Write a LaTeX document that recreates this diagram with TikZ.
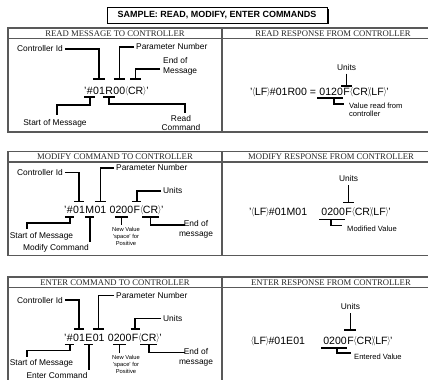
\documentclass[tikz,border=0pt]{standalone}
\usepackage{graphicx}
\usepackage{fontspec}
\setmainfont{Liberation Sans}
\newfontfamily\hdrfont{Liberation Serif}
\newcommand\Lb{\kern-0.04em\raisebox{0.06em}{\scalebox{0.75}[0.85]{$\langle$}}\kern-0.02em}
\newcommand\Rb{\kern-0.02em\raisebox{0.06em}{\scalebox{0.75}[0.85]{$\rangle$}}\kern-0.04em}
\newcommand\RL{\Rb\kern-0.16em\Lb}
\begin{document}
\begin{tikzpicture}[x=1bp,y=-1bp,
  lab/.style={font=\fontsize{8.4}{9.8}\selectfont, inner sep=0pt, align=center},
  labl/.style={font=\fontsize{8.4}{10.5}\selectfont, inner sep=0pt, align=left},
  msg/.style={font=\fontsize{10.6}{12}\selectfont, inner sep=0pt, anchor=base west},
  tiny/.style={font=\fontsize{5.8}{7}\selectfont, inner sep=0pt, align=center},
  hdr/.style={font=\hdrfont\fontsize{8.7}{9}\selectfont, inner sep=0pt, text=black!85},
  conn/.style={line width=1.5bp},
  frame/.style={draw=black!65, line width=1.1bp},
]
\useasboundingbox (0,0) rectangle (428,380);
\clip (0,0) rectangle (428,380);

% title
\fill[black] (109,9) rectangle (328.5,24);
\node[draw=black, fill=white, line width=0.8bp, minimum width=220bp, minimum height=16bp, inner sep=0pt,
      font=\bfseries\fontsize{9}{10}\selectfont] (title) at (217,15) {SAMPLE: READ, MODIFY, ENTER COMMANDS};

% ================= panel 1 =================
\begin{scope}[shift={(0,28)}]
\draw[frame] (8,0) rectangle (448,104);
\draw[frame] (8,10.5) -- (448,10.5);
\draw[frame] (222,0) -- (222,104);
\node[hdr] (h1l) at (115,5.5) {READ MESSAGE TO CONTROLLER};
\node[hdr] (h1r) at (333,5.5) {READ RESPONSE FROM CONTROLLER};
% left message
\node[msg] (a1q) at (84,66) {'};
\node[msg] (a1h) at (a1q.base east) {\#};
\node[msg] (a1c) at (a1h.base east) {01};
\node[msg] (a1r) at (a1c.base east) {R};
\node[msg] (a1p) at (a1r.base east) {00};
\node[msg] (a1e) at (a1p.base east) {\Lb CR\Rb};
\node[msg] (a1z) at (a1e.base east) {'};
\coordinate (t1) at (0,51);
\coordinate (b1) at (0,69);
\node[lab, anchor=west] (cid1) at (17,21) {Controller Id};
\draw[conn] ([xshift=2]cid1.east) -| (a1c |- t1);
\draw[conn] (a1c |- t1) ++(-6,0) -- ++(12,0);
\node[lab, anchor=west] (par1) at (136,19) {Parameter Number};
\draw[conn] ([xshift=-2]par1.west) -| (a1p |- t1);
\draw[conn] (a1p |- t1) ++(-5.5,0) -- ++(11,0);
\node[labl, anchor=west] (end1) at (163,38.5) {End of\\Message};
\coordinate (end1k) at (160,41);
\draw[conn] (end1k) -| (a1e |- t1);
\draw[conn] (a1e |- t1) ++(-5.5,0) -- ++(11,0);
\node[lab] (st1) at (55,95) {Start of Message};
\coordinate (st1k) at (57,87);
\draw[conn] (a1h |- b1) ++(-5.5,0) -- ++(11,0);
\draw[conn] (a1h |- b1) -- ++(0,8) -| (st1k);
\node[lab] (rd1) at (181,95) {Read\\Command};
\coordinate (rd1k) at (185,85);
\draw[conn] (a1r |- b1) ++(-6,0) -- ++(12,0);
\draw[conn] (a1r |- b1) -- ++(0,7) -| (rd1k);
% right message
\node[msg] (r1a) at (250,67.5) {'\Lb LF\Rb\#01R00 =};
\node[msg] (r1v) at ([xshift=3]r1a.base east) {0120};
\node[msg] (r1f) at (r1v.base east) {F};
\node[msg] (r1b) at (r1f.base east) {\Lb CR\RL LF\Rb'};
\node[lab] (u1) at (r1f |- 0,40) {Units};
\coordinate (ub1) at (r1f |- 0,58);
\draw[conn] (r1f |- 0,45.5) -- (ub1);
\draw[conn] (ub1) ++(-5.5,0) -- ++(11,0);
\draw[conn] ([xshift=-2]r1v.base west |- 0,70) -- (r1v.base east |- 0,70);
\coordinate (vk1) at ([xshift=15]r1v.base west |- 0,70);
\node[labl, anchor=west, font=\fontsize{7.6}{8}\selectfont] (val1) at (349,82) {Value read from\\controller};
\draw[conn] (vk1) -- ++(0,6) -- ([xshift=-5]val1.west |- 0,76);
\end{scope}

% ================= panel 2 =================
\begin{scope}[shift={(0,151.5)}]
\draw[frame] (8,0) rectangle (448,104);
\draw[frame] (8,10.5) -- (448,10.5);
\draw[frame] (222,0) -- (222,104);
\node[hdr] (h2l) at (115,5.5) {MODIFY COMMAND TO CONTROLLER};
\node[hdr] (h2r) at (331,5.5) {MODIFY RESPONSE FROM CONTROLLER};
% left message
\node[msg] (a2q) at (64,62) {'};
\node[msg] (a2h) at (a2q.base east) {\#};
\node[msg] (a2c) at (a2h.base east) {01};
\node[msg] (a2m) at (a2c.base east) {M};
\node[msg] (a2p) at (a2m.base east) {01};
\node[msg] (a2v) at ([xshift=3]a2p.base east) {0200};
\node[msg] (a2f) at (a2v.base east) {F};
\node[msg] (a2e) at (a2f.base east) {\Lb CR\Rb};
\node[msg] (a2z) at (a2e.base east) {'};
\coordinate (t2) at (0,50);
\coordinate (b2) at (0,65.5);
\node[lab, anchor=west] (cid2) at (17,21.2) {Controller Id};
\draw[conn] ([xshift=2]cid2.east) -| (a2c |- t2);
\draw[conn] (a2c |- t2) ++(-5,0) -- ++(10,0);
\node[lab, anchor=west] (par2) at (116,16.5) {Parameter Number};
\draw[conn] ([xshift=-2]par2.west) -| (a2p |- t2);
\draw[conn] (a2p |- t2) ++(-5.5,0) -- ++(11,0);
\node[lab, anchor=west] (un2) at (163,39.5) {Units};
\draw[conn] ([xshift=-2]un2.west) -| (a2f |- t2);
\draw[conn] (a2f |- t2) ++(-4.5,0) -- ++(9,0);
\node[lab] (st2) at (41.5,84.5) {Start of Message};
\coordinate (st2k) at (27,77.5);
\draw[conn] (a2h |- b2) ++(-5,0) -- ++(9,0);
\draw[conn] (a2h |- b2) -- ++(0,6) -| (st2k);
\node[lab] (mc2) at (56,96.5) {Modify Command};
\draw[conn] (a2m |- b2) ++(-4.5,0) -- ++(9,0);
\draw[conn] (a2m |- b2) -- (a2m |- 0,90.5);
\node[tiny] (nv2) at (126,85) {New Value\\'space' for\\Positive};
\draw[conn] (a2v |- b2) ++(-6.5,0) -- ++(13,0);
\draw[conn] (a2v |- b2) -- (a2v |- 0,73.5);
\node[lab] (em2) at (196,78) {End of\\message};
\coordinate (em2k) at (185,73.5);
\draw[conn] (a2e |- b2) ++(-8.5,0) -- ++(17,0);
\draw[conn] (a2e |- b2) |- (em2k);
% right message
\node[msg] (r2a) at (249,64) {'\Lb LF\Rb\#01M01};
\node[msg] (r2v) at ([xshift=14]r2a.base east) {0200};
\node[msg] (r2f) at (r2v.base east) {F};
\node[msg] (r2b) at (r2f.base east) {\Lb CR\RL LF\Rb'};
\node[lab] (u2) at (r2f |- 0,27.5) {Units};
\coordinate (ub2) at (r2f |- 0,51);
\draw[conn] (r2f |- 0,33.5) -- (ub2);
\draw[conn] (ub2) ++(-5.5,0) -- ++(11,0);
\draw[conn] ([xshift=-2]r2v.base west |- 0,68) -- (r2v.base east |- 0,68);
\coordinate (vk2) at ([xshift=10]r2v.base west |- 0,68);
\node[lab, anchor=west, font=\fontsize{7.6}{8}\selectfont] (mv2) at (347,77.5) {Modified Value};
\draw[conn] (vk2) -- ++(0,6) -- ([xshift=-5]mv2.west |- 0,74);
\end{scope}

% ================= panel 3 =================
\begin{scope}[shift={(0,277)}]
\draw[frame] (8,0) rectangle (448,104);
\draw[frame] (8,10.5) -- (448,10.5);
\draw[frame] (222,0) -- (222,104);
\node[hdr] (h3l) at (115,5.5) {ENTER COMMAND TO CONTROLLER};
\node[hdr] (h3r) at (331,5.5) {ENTER RESPONSE FROM CONTROLLER};
\end{scope}
\begin{scope}[shift={(0,279)}]
% left message
\node[msg] (a3q) at (64,62) {'};
\node[msg] (a3h) at (a3q.base east) {\#};
\node[msg] (a3c) at (a3h.base east) {01};
\node[msg] (a3m) at (a3c.base east) {E};
\node[msg] (a3p) at (a3m.base east) {01};
\node[msg] (a3v) at ([xshift=3]a3p.base east) {0200};
\node[msg] (a3f) at (a3v.base east) {F};
\node[msg] (a3e) at (a3f.base east) {\Lb CR\Rb};
\node[msg] (a3z) at (a3e.base east) {'};
\coordinate (t3) at (0,50);
\coordinate (b3) at (0,65.5);
\node[lab, anchor=west] (cid3) at (17,21.2) {Controller Id};
\draw[conn] ([xshift=2]cid3.east) -| (a3c |- t3);
\draw[conn] (a3c |- t3) ++(-5,0) -- ++(10,0);
\node[lab, anchor=west] (par3) at (116,16.5) {Parameter Number};
\draw[conn] ([xshift=-2]par3.west) -| (a3p |- t3);
\draw[conn] (a3p |- t3) ++(-5.5,0) -- ++(11,0);
\node[lab, anchor=west] (un3) at (163,39.5) {Units};
\draw[conn] ([xshift=-2]un3.west) -| (a3f |- t3);
\draw[conn] (a3f |- t3) ++(-4.5,0) -- ++(9,0);
\node[lab] (st3) at (41.5,84.5) {Start of Message};
\coordinate (st3k) at (27,77.5);
\draw[conn] (a3h |- b3) ++(-5,0) -- ++(9,0);
\draw[conn] (a3h |- b3) -- ++(0,6) -| (st3k);
\node[lab] (ec3) at (57,96.5) {Enter Command};
\draw[conn] (a3m |- b3) ++(-4.5,0) -- ++(9,0);
\draw[conn] (a3m |- b3) -- (a3m |- 0,90.5);
\node[tiny] (nv3) at (126,85) {New Value\\'space' for\\Positive};
\draw[conn] (a3v |- b3) ++(-6.5,0) -- ++(13,0);
\draw[conn] (a3v |- b3) -- (a3v |- 0,73.5);
\node[lab] (em3) at (196,78) {End of\\message};
\coordinate (em3k) at (185,73.5);
\draw[conn] (a3e |- b3) ++(-8.5,0) -- ++(17,0);
\draw[conn] (a3e |- b3) |- (em3k);
% right message
\node[msg] (r3a) at (251,65) {\Lb LF\Rb\#01E01};
\node[msg] (r3v) at ([xshift=18]r3a.base east) {0200};
\node[msg] (r3f) at (r3v.base east) {F};
\node[msg] (r3b) at (r3f.base east) {\Lb CR\RL LF\Rb'};
\node[lab] (u3) at (r3f |- 0,27.7) {Units};
\coordinate (ub3) at (r3f |- 0,51);
\draw[conn] (r3f |- 0,34) -- (ub3);
\draw[conn] (ub3) ++(-6,0) -- ++(12,0);
\draw[conn] ([xshift=-2]r3v.base west |- 0,69) -- (r3v.base east |- 0,69);
\coordinate (vk3) at ([xshift=14]r3v.base west |- 0,69);
\node[lab, anchor=west, font=\fontsize{7.6}{8}\selectfont] (ev3) at (354,78) {Entered Value};
\draw[conn] (vk3) -- ++(0,5) -- ([xshift=-3]ev3.west |- 0,74);
\end{scope}
\end{tikzpicture}
\end{document}
